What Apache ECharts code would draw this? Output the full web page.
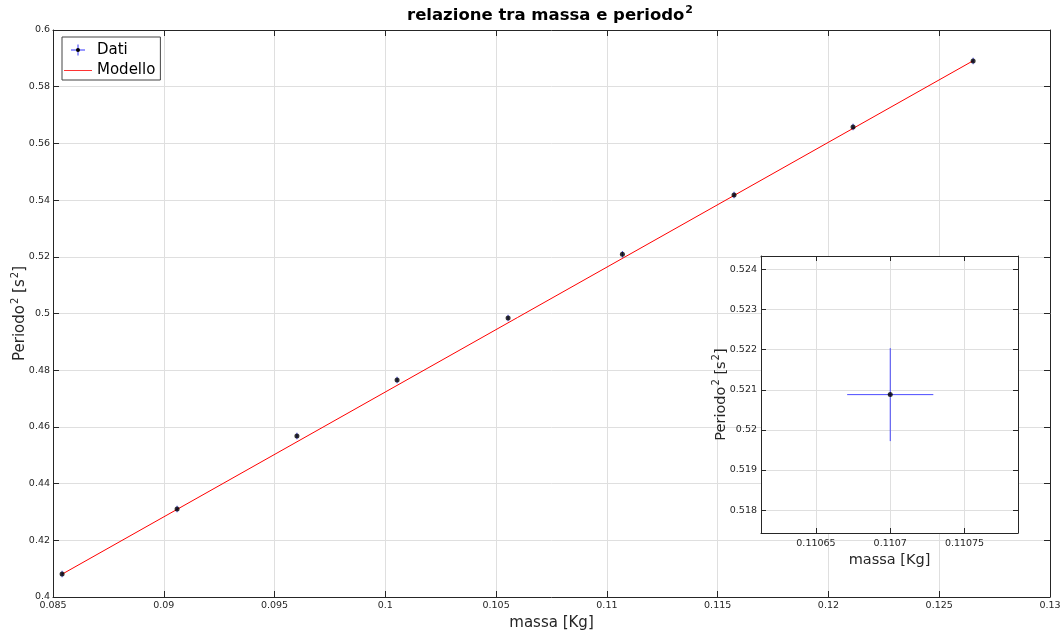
<!DOCTYPE html>
<html>
<head>
<meta charset="utf-8">
<title>relazione tra massa e periodo²</title>
<script src="https://cdn.jsdelivr.net/npm/echarts@6/dist/echarts.min.js"></script>
<style>
  html, body { margin: 0; padding: 0; background: #ffffff; }
  #chart { width: 1063px; height: 634px; }
</style>
</head>
<body>
<div id="chart"></div>
<script>
// Misure: massa [Kg] e periodo al quadrato [s^2]
const massa      = [0.08541, 0.09060, 0.09601, 0.10053, 0.10554, 0.11070, 0.11574, 0.12111, 0.12653];
const periodo2   = [0.40811, 0.43104, 0.45679, 0.47654, 0.49841, 0.52088, 0.54180, 0.56579, 0.58907];
// Incertezze
const errMassa   = [0.000029, 0.000029, 0.000029, 0.000029, 0.000029, 0.000029, 0.000029, 0.000029, 0.000029];
const errPeriodo2 = [0.00116, 0.00116, 0.00116, 0.00116, 0.00116, 0.00116, 0.00116, 0.00116, 0.00116];
// Retta del modello (estremi)
const modelloMassa    = [0.08541, 0.12653];
const modelloPeriodo2 = [0.40805, 0.58915];

// Assi del grafico principale
const xMain = { min: 0.085, max: 0.13, step: 0.005 };
const yMain = { min: 0.4, max: 0.6, step: 0.02 };

// Riquadro di dettaglio sul sesto punto
const dettaglioIndice = 5;
const dettaglioX = [0.110613, 0.110786];
const dettaglioY = [0.517427, 0.524339];
const dettaglioTickX = [0.11065, 0.1107, 0.11075];
const dettaglioTickY = [0.518, 0.519, 0.52, 0.521, 0.522, 0.523, 0.524];

const INK = '#262626';
const GRID = '#dfdfdf';
const FONT = 'DejaVu Sans';

const puntiErr = massa.map((m, i) => [m, periodo2[i], errMassa[i], errPeriodo2[i]]);
const punti = massa.map((m, i) => [m, periodo2[i]]);
const modello = modelloMassa.map((m, i) => [m, modelloPeriodo2[i]]);

function barreErrore(params, api) {
  const x = api.value(0), y = api.value(1), ex = api.value(2), ey = api.value(3);
  const l = api.coord([x - ex, y]), r = api.coord([x + ex, y]);
  const t = api.coord([x, y + ey]), b = api.coord([x, y - ey]);
  const st = { stroke: '#0000ff', lineWidth: 1, opacity: 0.7 };
  return {
    type: 'group',
    children: [
      { type: 'line', shape: { x1: l[0], y1: l[1], x2: r[0], y2: r[1] }, style: st },
      { type: 'line', shape: { x1: t[0], y1: t[1], x2: b[0], y2: b[1] }, style: st }
    ]
  };
}

function iconaSvg(body) {
  return 'image://data:image/svg+xml;utf8,' + encodeURIComponent(
    '<svg xmlns="http://www.w3.org/2000/svg" width="28" height="14" viewBox="0 0 28 14">' + body + '</svg>');
}
const iconaDati = iconaSvg(
  '<path d="M7 7H21M14 1.5V12.5" stroke="#0000ff" stroke-width="1" stroke-opacity="0.8" fill="none"/>' +
  '<circle cx="14" cy="7" r="2" fill="#000"/>');
const iconaModello = iconaSvg('<path d="M0 7.5H28" stroke="#ff0000" stroke-width="1" stroke-opacity="0.8" fill="none"/>');

// testo con apice: il token "s" viene sollevato con un padding inferiore
function richApice(size, supSize, color, weight, raise) {
  return {
    a: { fontSize: size, color: color, fontFamily: FONT, fontWeight: weight, lineHeight: size + 4, verticalAlign: 'bottom' },
    s: { fontSize: supSize, color: color, fontFamily: FONT, fontWeight: weight, lineHeight: supSize, verticalAlign: 'bottom', padding: [0, 0, raise, 1] }
  };
}

function asseBase(extra) {
  return Object.assign({
    type: 'value',
    nameMoveOverlap: false,
    axisLine: { show: true, onZero: false, lineStyle: { color: INK, width: 1 } },
    axisTick: { show: true, inside: true, length: 6, lineStyle: { color: INK } },
    axisLabel: { color: INK, fontSize: 9.5, fontFamily: FONT },
    splitLine: { show: false }
  }, extra);
}

const option = {
  backgroundColor: '#ffffff',
  animation: false,
  textStyle: { fontFamily: FONT },
  title: {
    text: '{a|relazione tra massa e periodo}{s|2}',
    left: 407, top: 4, padding: 0,
    textStyle: { rich: richApice(16.5, 11, '#000', 'bold', 9) }
  },
  legend: {
    orient: 'vertical',
    left: 62, top: 37,
    padding: [4, 5, 1, 2],
    itemGap: 2,
    itemWidth: 28, itemHeight: 14,
    selectedMode: false,
    backgroundColor: '#ffffff',
    borderColor: '#444444', borderWidth: 1,
    textStyle: { fontSize: 15, color: '#000', fontFamily: FONT, lineHeight: 18 },
    data: [{ name: 'Dati', icon: iconaDati }, { name: 'Modello', icon: iconaModello }],
    z: 10
  },
  grid: [
    { left: 53, right: 13, top: 30, bottom: 37, containLabel: false, outerBoundsMode: 'none' },
    { left: 761, top: 256, width: 257, height: 277, containLabel: false, outerBoundsMode: 'none',
      show: true, backgroundColor: '#ffffff', borderWidth: 0, z: 3 }
  ],
  xAxis: [
    asseBase({
      gridIndex: 0, position: 'bottom', min: xMain.min, max: xMain.max, interval: xMain.step,
      axisLabel: { color: INK, fontSize: 9.5, fontFamily: FONT, margin: 4 },
      splitLine: { show: true, lineStyle: { color: GRID, width: 1 } },
      name: 'massa [Kg]', nameLocation: 'middle', nameGap: 18.5,
      nameTextStyle: { fontSize: 15, color: INK, fontFamily: FONT }
    }),
    asseBase({
      gridIndex: 0, position: 'top', min: xMain.min, max: xMain.max, interval: xMain.step,
      axisLabel: { show: false }
    }),
    asseBase({
      gridIndex: 1, position: 'bottom', min: dettaglioX[0], max: dettaglioX[1], z: 4,
      axisTick: { show: true, inside: true, length: 5, lineStyle: { color: INK }, customValues: dettaglioTickX },
      axisLabel: { color: INK, fontSize: 9.5, fontFamily: FONT, margin: 6, customValues: dettaglioTickX },
      splitLine: { show: true, lineStyle: { color: GRID, width: 1 } },
      name: 'massa [Kg]', nameLocation: 'middle', nameGap: 20,
      nameTextStyle: { fontSize: 14.5, color: INK, fontFamily: FONT }
    }),
    asseBase({
      gridIndex: 1, position: 'top', min: dettaglioX[0], max: dettaglioX[1], z: 4,
      axisTick: { show: true, inside: true, length: 5, lineStyle: { color: INK }, customValues: dettaglioTickX },
      axisLabel: { show: false }
    })
  ],
  yAxis: [
    asseBase({
      gridIndex: 0, position: 'left', min: yMain.min, max: yMain.max, interval: yMain.step,
      axisLabel: { color: INK, fontSize: 9.5, fontFamily: FONT, margin: 3 },
      splitLine: { show: true, lineStyle: { color: GRID, width: 1 } },
      name: '{a|Periodo}{s|2}{a| [s}{s|2}{a|]}', nameLocation: 'middle', nameGap: 25,
      nameTextStyle: { rich: richApice(15, 10, INK, 'normal', 8) }
    }),
    asseBase({
      gridIndex: 0, position: 'right', min: yMain.min, max: yMain.max, interval: yMain.step,
      axisLabel: { show: false }
    }),
    asseBase({
      gridIndex: 1, position: 'left', min: dettaglioY[0], max: dettaglioY[1], z: 4,
      axisTick: { show: true, inside: true, length: 5, lineStyle: { color: INK }, customValues: dettaglioTickY },
      axisLabel: { color: INK, fontSize: 9.5, fontFamily: FONT, margin: 4, customValues: dettaglioTickY },
      splitLine: { show: true, lineStyle: { color: GRID, width: 1 } },
      name: '{a|Periodo}{s|2}{a| [s}{s|2}{a|]}', nameLocation: 'middle', nameGap: 32,
      nameTextStyle: { rich: richApice(14.5, 10, INK, 'normal', 8) }
    }),
    asseBase({
      gridIndex: 1, position: 'right', min: dettaglioY[0], max: dettaglioY[1], z: 4,
      axisTick: { show: true, inside: true, length: 5, lineStyle: { color: INK }, customValues: dettaglioTickY },
      axisLabel: { show: false }
    })
  ],
  series: [
    {
      name: 'Dati', type: 'custom', xAxisIndex: 0, yAxisIndex: 0,
      renderItem: barreErrore, data: puntiErr, encode: { x: 0, y: 1 }, z: 3, clip: true
    },
    {
      name: 'Modello', type: 'line', xAxisIndex: 0, yAxisIndex: 0,
      data: modello, showSymbol: false, symbol: 'none',
      lineStyle: { color: '#ff0000', width: 1 }, itemStyle: { color: '#ff0000' }, z: 2
    },
    {
      name: 'punti', type: 'scatter', xAxisIndex: 0, yAxisIndex: 0,
      data: punti, symbol: 'circle', symbolSize: 5,
      itemStyle: { color: '#000000' }, z: 4
    },
    {
      name: 'Dati', type: 'custom', xAxisIndex: 2, yAxisIndex: 2,
      renderItem: barreErrore, data: [puntiErr[dettaglioIndice]], encode: { x: 0, y: 1 }, z: 5, clip: true
    },
    {
      name: 'punti', type: 'scatter', xAxisIndex: 2, yAxisIndex: 2,
      data: [punti[dettaglioIndice]], symbol: 'circle', symbolSize: 5,
      itemStyle: { color: '#000000' }, z: 6
    }
  ]
};

const chart = echarts.init(document.getElementById('chart'), null, { renderer: 'canvas' });
chart.setOption(option);
</script>
</body>
</html>
